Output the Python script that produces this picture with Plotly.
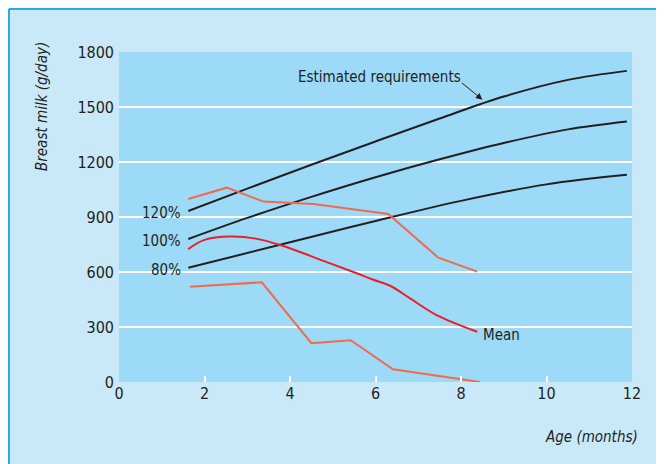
import plotly.graph_objects as go

# Estimated requirements (black curves)
r120_x = [1.62, 3.0, 4.5, 6.0, 7.5, 9.0, 10.5, 11.88]
r120_y = [933, 1055, 1185, 1312, 1437, 1557, 1648, 1697]
r100_x = [1.62, 3.0, 4.5, 6.0, 7.5, 9.0, 10.5, 11.88]
r100_y = [780, 895, 1010, 1117, 1215, 1304, 1378, 1421]
r80_x = [1.62, 4.0, 6.0, 8.0, 10.0, 11.88]
r80_y = [623, 762, 878, 988, 1078, 1130]

# Upper observed line
up_x = [1.62, 2.52, 3.38, 4.55, 6.3, 7.47, 8.38]
up_y = [998, 1060, 984, 971, 916, 678, 602]

# Lower observed line
lo_x = [1.66, 3.34, 4.5, 5.42, 6.41, 8.44]
lo_y = [520, 544, 212, 228, 69, 0]

# Mean (smooth red)
mean_x = [1.62, 2.0, 2.6, 3.2, 3.77, 4.94, 5.56, 5.95, 6.34, 6.81, 7.43, 8.38]
mean_y = [725, 775, 793, 782, 747, 647, 593, 558, 525, 456, 365, 274]

y_ticks = [0, 300, 600, 900, 1200, 1500, 1800]
grid_vals = [300, 600, 900, 1200, 1500]
x_ticks = [0, 2, 4, 6, 8, 10, 12]

FONT = "DejaVu Sans Condensed, Liberation Sans Narrow, Roboto, sans-serif"
BLACK = "#231f20"
ORANGE = "#f06a4e"
RED = "#e8202a"

ML, MR, MT, MB = 111, 40, 44, 90
W, H = 664, 464
PW, PH = W - ML - MR, H - MT - MB

fig = go.Figure()
for xx, yy in [(r120_x, r120_y), (r100_x, r100_y), (r80_x, r80_y)]:
    fig.add_trace(go.Scatter(x=xx, y=yy, mode="lines",
                             line=dict(color=BLACK, width=2, shape="spline", smoothing=1.0)))
fig.add_trace(go.Scatter(x=up_x, y=up_y, mode="lines", line=dict(color=ORANGE, width=2)))
fig.add_trace(go.Scatter(x=lo_x, y=lo_y, mode="lines", line=dict(color=ORANGE, width=2)))
fig.add_trace(go.Scatter(x=mean_x, y=mean_y, mode="lines",
                         line=dict(color=RED, width=2, shape="spline", smoothing=1.0)))
fig.add_trace(go.Scatter(x=[0], y=[0], yaxis="y2", mode="lines", line=dict(width=0),
                         hoverinfo="skip"))

annotations = []
for lab, xx, yy in [("120%", r120_x, r120_y), ("100%", r100_x, r100_y), ("80%", r80_x, r80_y)]:
    annotations.append(dict(x=xx[0], y=yy[0], xref="x", yref="y", text=lab,
                            showarrow=False, xanchor="right", xshift=-5, yshift=-2,
                            font=dict(family=FONT, size=15, color=BLACK)))
annotations.append(dict(x=mean_x[-1], y=mean_y[-1], xref="x", yref="y", text="Mean",
                        showarrow=False, xanchor="left", xshift=4, yshift=-3,
                        font=dict(family=FONT, size=15, color=BLACK)))
annotations.append(dict(x=8.5, y=1540, xref="x", yref="y", text="", showarrow=True,
                        arrowhead=2, arrowsize=1.3, arrowwidth=1, arrowcolor=BLACK,
                        ax=-22, ay=-18))
annotations.append(dict(x=0.508, y=1.0 - (77 - 52) / PH, xref="paper", yref="paper",
                        text="Estimated requirements", showarrow=False,
                        xanchor="center", yanchor="middle",
                        font=dict(family=FONT, size=15, color=BLACK)))
annotations.append(dict(x=1.0 + 8 / PW, y=-(437 - 382) / PH, xref="paper", yref="paper",
                        text="<i>Age (months)</i>", showarrow=False,
                        xanchor="right", yanchor="middle",
                        font=dict(family=FONT, size=15, color=BLACK)))
annotations.append(dict(x=-(119 - 42) / PW, y=1.0 - (107 - 52) / PH, xref="paper", yref="paper",
                        text="<i>Breast milk (g/day)</i>", showarrow=False, textangle=-90,
                        xanchor="center", yanchor="middle",
                        font=dict(family=FONT, size=15, color=BLACK)))

edge_x = -(ML - 1) / PW
edge_y = 1.0 + (MT - 1) / PH
shapes = [
    dict(type="line", xref="paper", yref="paper", x0=edge_x, x1=1.2, y0=edge_y, y1=edge_y,
         line=dict(color="#2aa9e1", width=2)),
    dict(type="line", xref="paper", yref="paper", x0=edge_x, x1=edge_x, y0=-0.5, y1=edge_y,
         line=dict(color="#2aa9e1", width=2)),
]

fig.update_layout(
    width=W, height=H,
    margin=dict(l=ML, r=MR, t=MT, b=MB),
    paper_bgcolor="#c9e9f9",
    plot_bgcolor="#9ddaf7",
    showlegend=False,
    annotations=annotations,
    shapes=shapes,
    xaxis=dict(range=[0, 12], tickvals=x_ticks, showgrid=False, zeroline=False,
               ticks="inside", ticklen=6, tickwidth=2, tickcolor="white",
               showline=False, tickfont=dict(family=FONT, size=16, color=BLACK)),
    yaxis=dict(range=[0, 1800], tickvals=y_ticks, showgrid=False, zeroline=False,
               ticks="", showline=False, ticklabelstandoff=4,
               tickfont=dict(family=FONT, size=16, color=BLACK)),
    yaxis2=dict(range=[0, 1800], overlaying="y", tickvals=grid_vals, showgrid=True,
                gridcolor="white", gridwidth=2, showticklabels=False, zeroline=False,
                ticks=""),
)

fig.write_html("out.html")
